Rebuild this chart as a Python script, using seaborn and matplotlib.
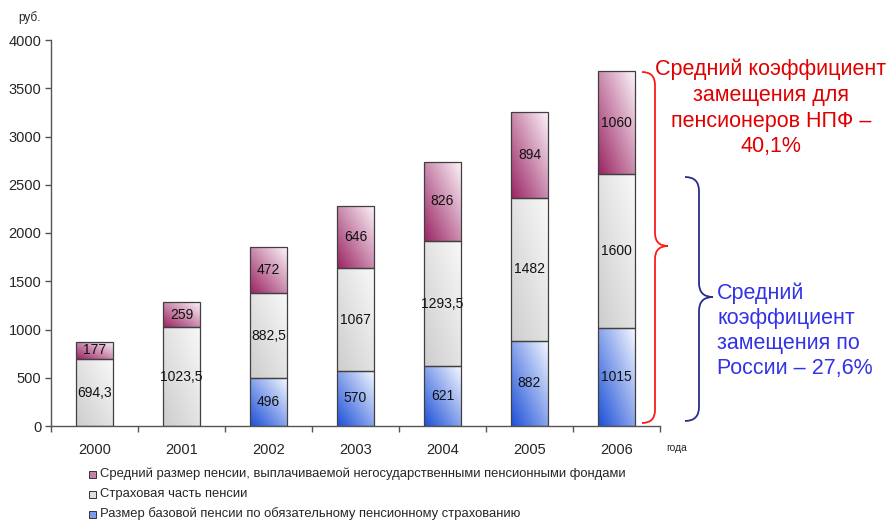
import numpy as np
import pandas as pd
import matplotlib
matplotlib.use("Agg")
import matplotlib.pyplot as plt
import seaborn as sns
from matplotlib.colors import LinearSegmentedColormap
from matplotlib.patches import Rectangle, PathPatch
from matplotlib.path import Path

years = ["2000", "2001", "2002", "2003", "2004", "2005", "2006"]
base_pension = [0, 0, 496, 570, 621, 882, 1015]
insurance_part = [694.3, 1023.5, 882.5, 1067, 1293.5, 1482, 1600]
npf_pension = [177, 259, 472, 646, 826, 894, 1060]
series_names = [
    "Средний размер пенсии, выплачиваемой негосударственными пенсионными фондами",
    "Страховая часть пенсии",
    "Размер базовой пенсии по обязательному пенсионному страхованию",
]
y_ticks = [0, 500, 1000, 1500, 2000, 2500, 3000, 3500, 4000]

sns.set_theme(style="white")
plt.rcParams["font.family"] = ["Liberation Sans", "DejaVu Sans"]

fig = plt.figure(figsize=(8.88, 5.2), dpi=100)
ax = fig.add_axes([51 / 888, 1 - 426 / 520, (660 - 51) / 888, (426 - 40) / 520])

df = pd.DataFrame({"year": years, "base": base_pension,
                   "ins": insurance_part, "npf": npf_pension})
bottom_ins = np.array(base_pension, dtype=float)
bottom_npf = bottom_ins + np.array(insurance_part, dtype=float)

grads = {
    "base": ("#1d50d8", "#f3f7ff"),
    "ins": ("#cdcdcd", "#f8f8f8"),
    "npf": ("#9a2463", "#fcf3f9"),
}

layers = [("base", None), ("ins", bottom_ins), ("npf", bottom_npf)]
all_patches = {}
for key, bottom in layers:
    n_before = len(ax.patches)
    kw = {}
    if bottom is not None:
        kw["bottom"] = bottom
    sns.barplot(data=df, x="year", y=key, ax=ax, width=0.42,
                color=grads[key][1], edgecolor="#404040", linewidth=0.9,
                **kw)
    all_patches[key] = ax.patches[n_before:]

# gradient fills
u = np.linspace(0, 1, 60)
v = np.linspace(0, 1, 120)
U, V = np.meshgrid(u, v)
T = (U + V) / 2.0  # 0 at bottom-left, 1 at top-right
for key, patches in all_patches.items():
    cmap = LinearSegmentedColormap.from_list(key, list(grads[key]))
    for p in patches:
        x0, y0 = p.get_x(), p.get_y()
        w, h = p.get_width(), p.get_height()
        if h <= 0:
            continue
        im = ax.imshow(T, cmap=cmap, origin="lower", aspect="auto",
                       extent=[x0, x0 + w, y0, y0 + h], zorder=2,
                       interpolation="bilinear")
        im.set_clip_path(p)
        p.set_facecolor("none")
        p.set_zorder(3)

# value labels
def fmt(v):
    s = f"{v:g}"
    return s.replace(".", ",")

for key, vals, bottom in [("base", base_pension, np.zeros(7)),
                          ("ins", insurance_part, bottom_ins),
                          ("npf", npf_pension, bottom_npf)]:
    for i, val in enumerate(vals):
        if val <= 0:
            continue
        ax.text(i, bottom[i] + val / 2, fmt(val), ha="center", va="center",
                fontsize=10, color="#111111", zorder=5)

ax.set_xlim(-0.5, 6.5)
ax.set_ylim(0, 4000)
ax.set_yticks(y_ticks)
ax.set_yticklabels([str(t) for t in y_ticks], fontsize=10.5)
ax.set_xticks(range(7))
ax.set_xticklabels(years, fontsize=10.5)
ax.set_xlabel("")
ax.set_ylabel("")
for s in ["top", "right"]:
    ax.spines[s].set_visible(False)
for s in ["left", "bottom"]:
    ax.spines[s].set_color("#555555")
    ax.spines[s].set_linewidth(1.0)
ax.tick_params(axis="y", which="both", left=True, length=4, width=1,
               color="#555555", pad=3)
ax.tick_params(axis="x", which="major", bottom=False, pad=6)
# category boundary ticks (Excel style)
ax.set_xticks(np.arange(-0.5, 7.0, 1.0), minor=True)
ax.tick_params(axis="x", which="minor", bottom=True, length=4, width=1,
               color="#555555")
ax.grid(False)

fig.text(18 / 888, 1 - 18 / 520, "руб.", fontsize=8.5, va="center", ha="left")
fig.text(666 / 888, 1 - 448 / 520, "года", fontsize=7.5, va="center", ha="left")

# legend
for i, (key, name) in enumerate(zip(["npf", "ins", "base"], series_names)):
    yy = 1 - (474 + 20 * i) / 520
    c0, c1 = grads[key]
    fig.patches.append(Rectangle((89 / 888, yy - 3.5 / 520), 7 / 888, 7 / 520,
                                 transform=fig.transFigure,
                                 facecolor=LinearSegmentedColormap.from_list("l", [c0, c1])(0.45),
                                 edgecolor="#333333", linewidth=0.7))
    fig.text(100 / 888, yy, name, fontsize=9.4, va="center", ha="left")

# braces (in figure pixel coords, y downward)
def brace(x0, ytop, ybot, ymid, w, color):
    H = 520.0
    W = 888.0
    xm = x0 + w / 2
    r = w / 2
    pts = [
        (x0, ytop), (xm, ytop), (xm, ytop + r),
        (xm, ymid - r),
        (xm, ymid), (x0 + w, ymid),
        (xm, ymid), (xm, ymid + r),
        (xm, ybot - r),
        (xm, ybot), (x0, ybot),
    ]
    codes = [Path.MOVETO, Path.CURVE3, Path.CURVE3, Path.LINETO,
             Path.CURVE3, Path.CURVE3, Path.CURVE3, Path.CURVE3,
             Path.LINETO, Path.CURVE3, Path.CURVE3]
    verts = [(x / W, 1 - y / H) for x, y in pts]
    fig.patches.append(PathPatch(Path(verts, codes), transform=fig.transFigure,
                                 facecolor="none", edgecolor=color, linewidth=1.3))

brace(642, 72, 423, 246, 26, "#ff1a1a")
brace(685, 177, 421, 297, 28, "#2b2b8c")

fig.text(771 / 888, 1 - 108 / 520,
         "Средний коэффициент\nзамещения для\nпенсионеров НПФ –\n40,1%",
         color="#e00000", fontsize=15.5, ha="center", va="center",
         linespacing=1.3)
fig.text(717 / 888, 1 - 331 / 520,
         "Средний\nкоэффициент\nзамещения по\nРоссии – 27,6%",
         color="#3333e6", fontsize=15.5, ha="left", va="center",
         linespacing=1.26)

fig.savefig("out.png", dpi=100)
